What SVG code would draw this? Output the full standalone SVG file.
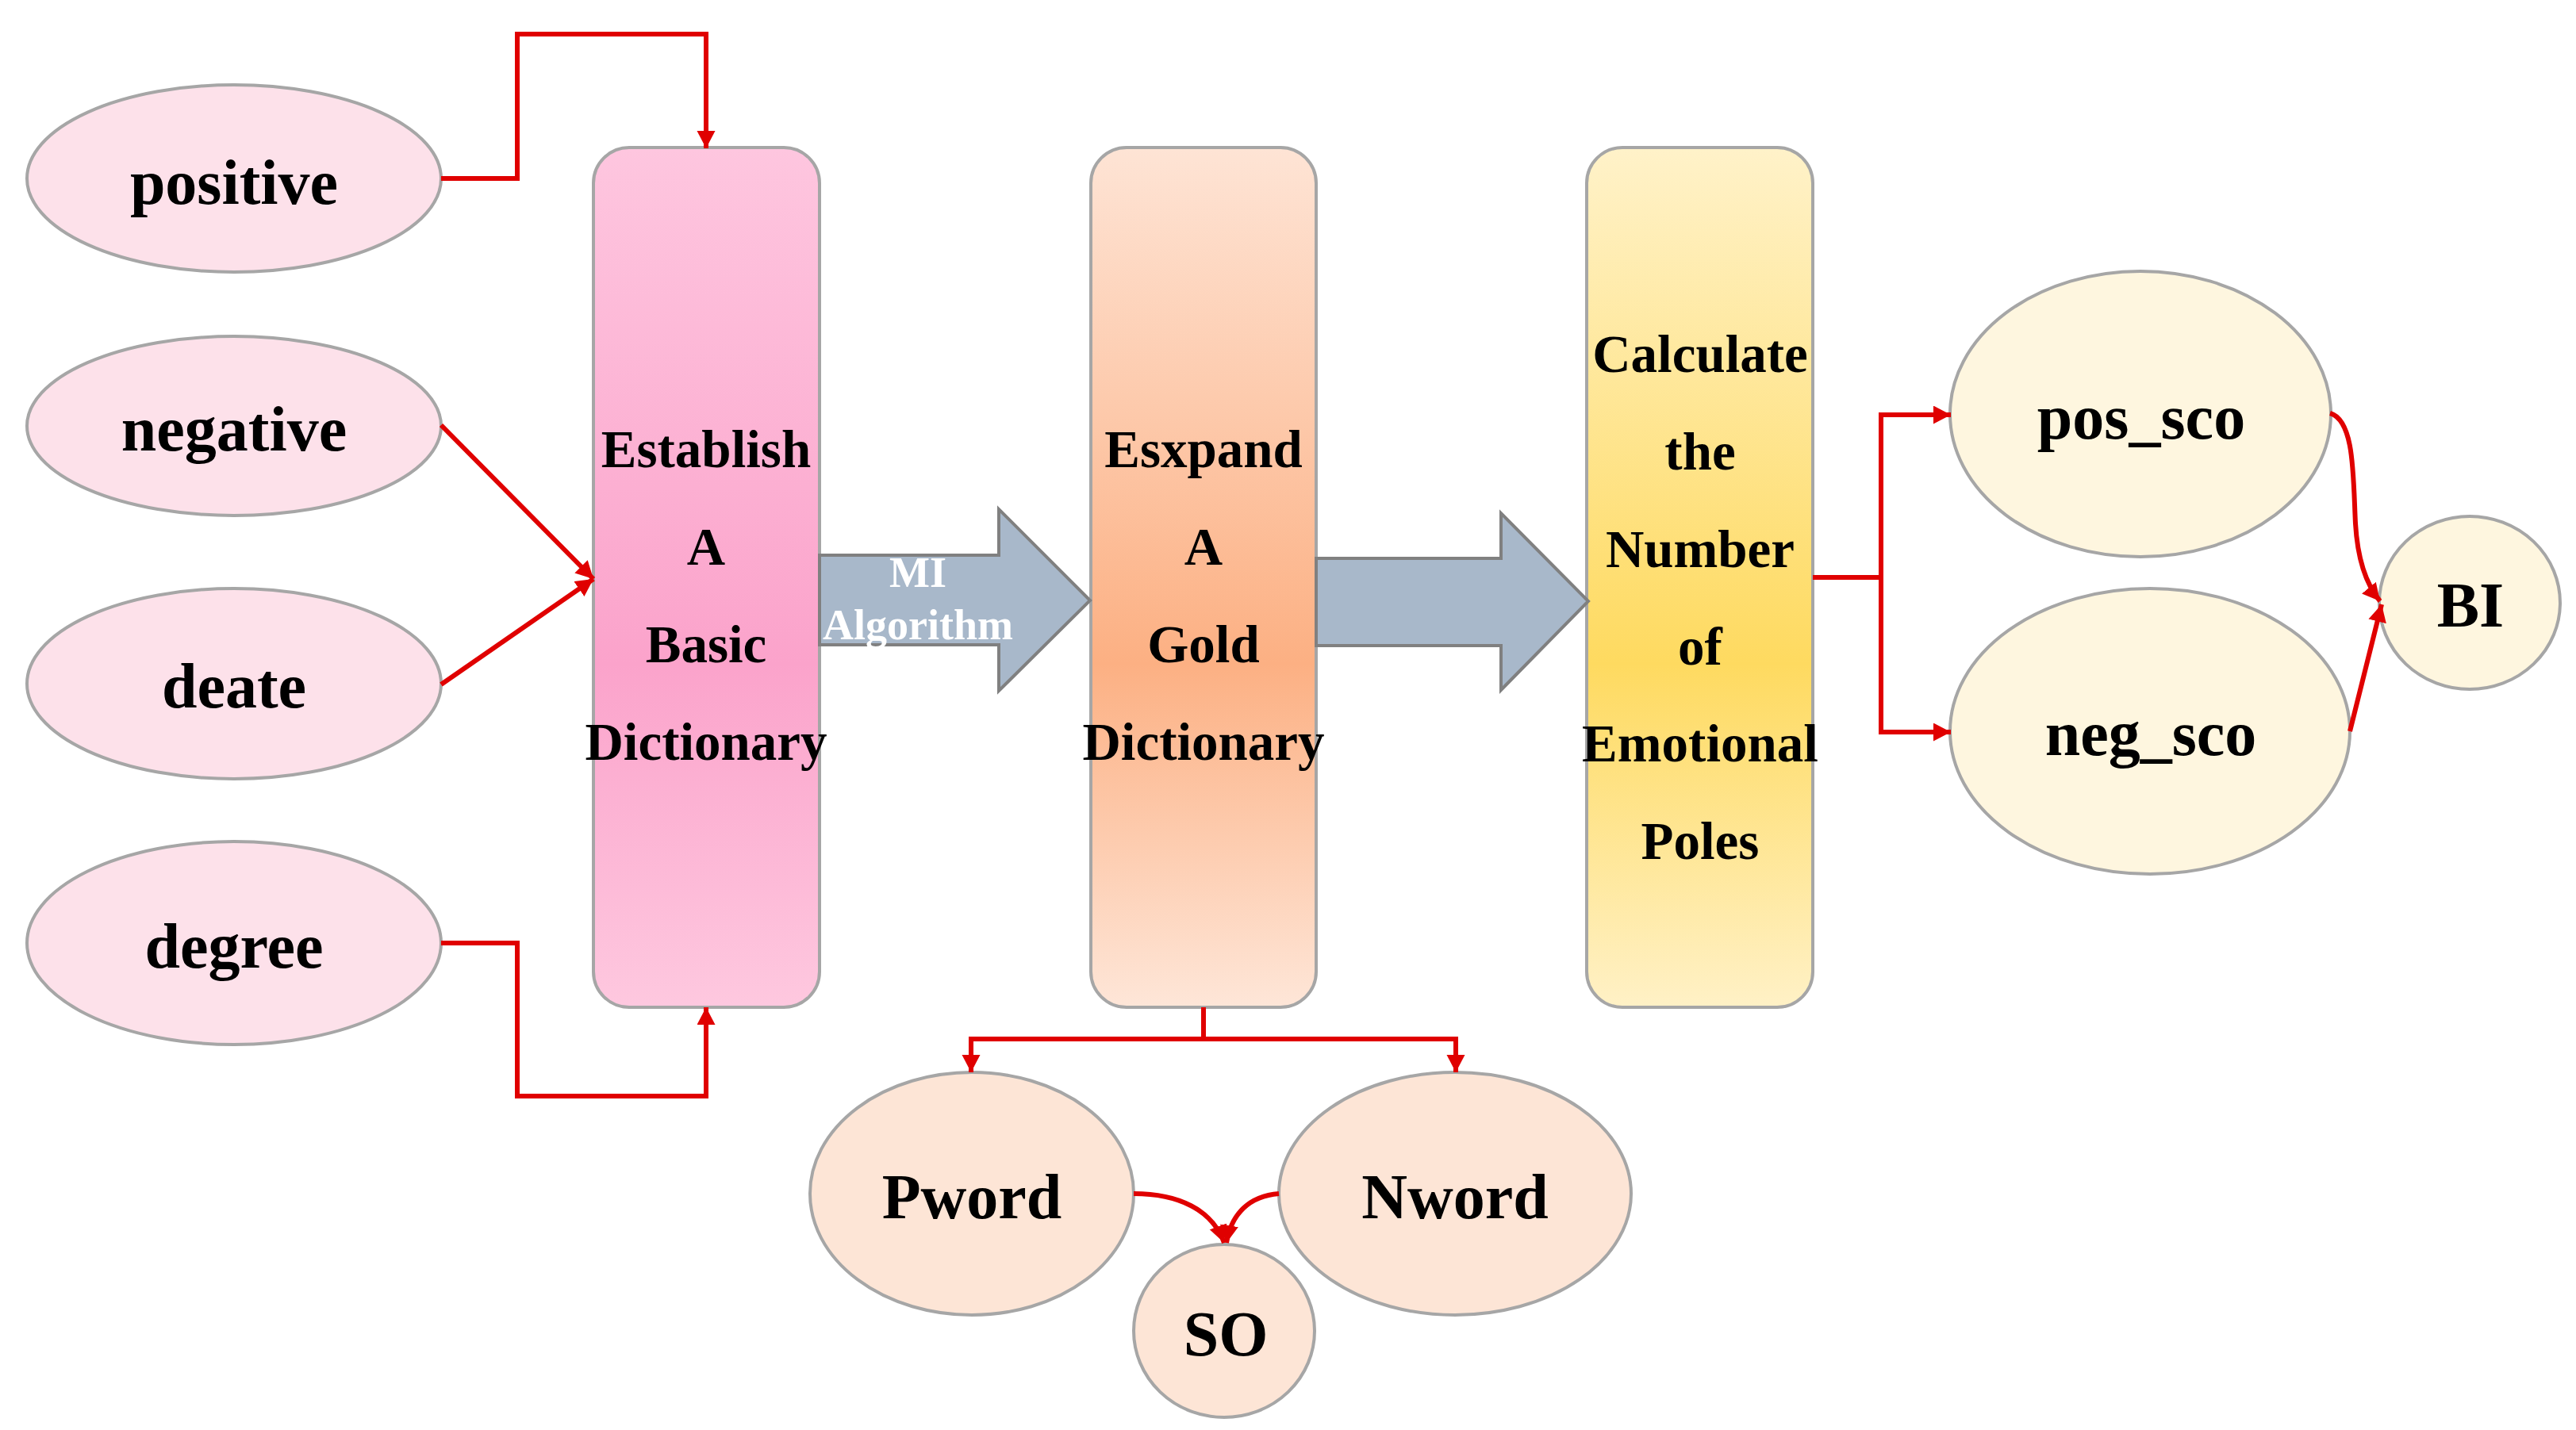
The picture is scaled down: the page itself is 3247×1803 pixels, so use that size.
<svg xmlns="http://www.w3.org/2000/svg" width="3247" height="1803" viewBox="0 0 3247 1803">
<defs>
<style>
.ell{stroke:#A6A6A6;stroke-width:4}
.pink{fill:#FDE1EA}
.peach{fill:#FDE5D6}
.cream{fill:#FEF6DF}
.box{stroke:#A6A6A6;stroke-width:4}
.t{font-family:"Liberation Serif","Times New Roman",serif;font-weight:bold;text-anchor:middle;fill:#000}
.big{font-size:80px}
.mid{font-size:67px}
.mi{font-size:54px;fill:#FFFFFF}
.blk{fill:#A8B8CA;stroke:#808080;stroke-width:4;stroke-linejoin:miter}
.red{fill:none;stroke:#E00000;stroke-width:6;marker-end:url(#ah)}
</style>
<marker id="ah" markerUnits="userSpaceOnUse" markerWidth="26" markerHeight="24" refX="22" refY="11.5" orient="auto">
<path d="M0,0 L22,11.5 L0,23 z" fill="#E00000"/>
</marker>
<linearGradient id="g1" x1="0" y1="0" x2="0" y2="1">
<stop offset="0" stop-color="#FEC6DF"/>
<stop offset="0.6" stop-color="#FBA3CB"/>
<stop offset="1" stop-color="#FEC8DF"/>
</linearGradient>
<linearGradient id="g2" x1="0" y1="0" x2="0" y2="1">
<stop offset="0" stop-color="#FEE4D5"/>
<stop offset="0.6" stop-color="#FCB083"/>
<stop offset="1" stop-color="#FEE6D8"/>
</linearGradient>
<linearGradient id="g3" x1="0" y1="0" x2="0" y2="1">
<stop offset="0" stop-color="#FFF2C9"/>
<stop offset="0.6" stop-color="#FEDA60"/>
<stop offset="1" stop-color="#FFF1C6"/>
</linearGradient>
</defs>
<rect width="3247" height="1803" fill="#FFFFFF"/>

<g id="box-establish">
<rect class="box" x="748" y="186" width="285" height="1084" rx="45" fill="url(#g1)"/>
<text class="t mid" x="890" y="589">Establish</text>
<text class="t mid" x="890" y="712">A</text>
<text class="t mid" x="890" y="835">Basic</text>
<text class="t mid" x="890" y="958">Dictionary</text>
</g>
<g id="box-expand">
<rect class="box" x="1375" y="186" width="284" height="1084" rx="45" fill="url(#g2)"/>
<text class="t mid" x="1517" y="589">Esxpand</text>
<text class="t mid" x="1517" y="712">A</text>
<text class="t mid" x="1517" y="835">Gold</text>
<text class="t mid" x="1517" y="958">Dictionary</text>
</g>
<g id="box-calculate">
<rect class="box" x="2000" y="186" width="285" height="1084" rx="45" fill="url(#g3)"/>
<text class="t mid" x="2143" y="469">Calculate</text>
<text class="t mid" x="2143" y="592">the</text>
<text class="t mid" x="2143" y="715">Number</text>
<text class="t mid" x="2143" y="838">of</text>
<text class="t mid" x="2143" y="960">Emotional</text>
<text class="t mid" x="2143" y="1083">Poles</text>
</g>

<g id="arrow-mi">
<polygon class="blk" points="1033,700 1259,700 1259,642 1374,757 1259,871 1259,813 1033,813"/>
<text class="t mi" x="1157" y="740">MI</text>
<text class="t mi" x="1157" y="806">Algorithm</text>
</g>
<g id="arrow-2">
<polygon class="blk" points="1659,704 1892,704 1892,647 2002,758 1892,870 1892,814 1659,814"/>
</g>

<g id="node-positive"><ellipse class="ell pink" cx="295" cy="225" rx="261" ry="118"/><text class="t big" x="295" y="257">positive</text></g>
<g id="node-negative"><ellipse class="ell pink" cx="295" cy="537" rx="261" ry="113"/><text class="t big" x="295" y="568">negative</text></g>
<g id="node-deate"><ellipse class="ell pink" cx="295" cy="862" rx="261" ry="120"/><text class="t big" x="295" y="892">deate</text></g>
<g id="node-degree"><ellipse class="ell pink" cx="295" cy="1189" rx="261" ry="128"/><text class="t big" x="295" y="1220">degree</text></g>

<g id="node-pword"><ellipse class="ell peach" cx="1225" cy="1505" rx="204" ry="153"/><text class="t big" x="1225" y="1536">Pword</text></g>
<g id="node-nword"><ellipse class="ell peach" cx="1834" cy="1505" rx="222" ry="153"/><text class="t big" x="1834" y="1536">Nword</text></g>
<g id="node-so"><ellipse class="ell peach" cx="1543" cy="1678" rx="114" ry="109"/><text class="t big" x="1545" y="1709">SO</text></g>

<g id="node-pos-sco"><ellipse class="ell cream" cx="2698" cy="522" rx="240" ry="180"/><text class="t big" x="2699" y="553">pos_sco</text></g>
<g id="node-neg-sco"><ellipse class="ell cream" cx="2710" cy="922" rx="252" ry="180"/><text class="t big" x="2711" y="952">neg_sco</text></g>
<g id="node-bi"><ellipse class="ell cream" cx="3113" cy="760" rx="114" ry="109"/><text class="t big" x="3114" y="790">BI</text></g>

<g id="connectors">
<path class="red" d="M556,225 H652 V43 H890 V187"/>
<path class="red" d="M556,1189 H652 V1382 H890 V1270"/>
<path class="red" d="M556,536 L748,730"/>
<path class="red" d="M556,863 L748,730"/>
<path class="red" d="M1517,1270 V1310 H1224 V1352"/>
<path class="red" d="M1517,1310 H1835 V1352"/>
<path class="red" d="M1429,1505 C1485,1505 1528,1525 1543,1567"/>
<path class="red" d="M1612,1505 C1575,1508 1552,1530 1546,1567"/>
<path class="red" d="M2285,728 H2371 V523 H2459"/>
<path class="red" d="M2371,728 V923 H2459"/>
<path class="red" d="M2937,521 C2968,530 2966,600 2969,660 C2972,712 2985,740 3000,758"/>
<path class="red" d="M2962,922 L3002,762"/>
</g>
</svg>
